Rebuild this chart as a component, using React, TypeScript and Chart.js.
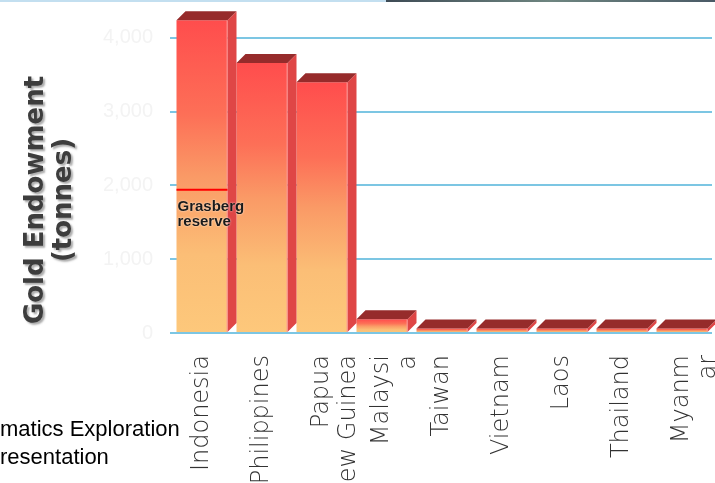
import { useEffect, useRef } from 'react';
import { Chart, registerables } from 'chart.js';

Chart.register(...registerables);

// ---- data ----
const CATEGORIES: (string | string[])[] = [
  'Indonesia',
  'Philippines',
  ['Papua', 'New Guinea'],
  ['Malaysi', 'a'],
  'Taiwan',
  'Vietnam',
  'Laos',
  'Thailand',
  ['Myanm', 'ar'],
];
const ENDOWMENT = [4240, 3660, 3400, 185, 60, 60, 60, 60, 60];
const Y_TICKS = [0, 1000, 2000, 3000, 4000];
const GRASBERG_RESERVE = 1940;
const ANNOTATION = ['Grasberg', 'reserve'];
const Y_TITLE = ['Gold Endowment', '(tonnes)'];
const FOOTER = ['matics Exploration', 'resentation'];

const DEPTH_X = 9;
const DEPTH_Y = 9;

const bar3d = {
  id: 'bar3d',
  afterDatasetsDraw(chart: any) {
    const ctx = chart.ctx as CanvasRenderingContext2D;
    const meta = chart.getDatasetMeta(0);
    ctx.save();
    meta.data.forEach((el: any) => {
      const { x, y, base, width } = el.getProps(['x', 'y', 'base', 'width'], true);
      const l = x - width / 2;
      const r = x + width / 2;
      // side face
      ctx.fillStyle = '#DF4646';
      ctx.beginPath();
      ctx.moveTo(r, y);
      ctx.lineTo(r + DEPTH_X, y - DEPTH_Y);
      ctx.lineTo(r + DEPTH_X, base - DEPTH_Y);
      ctx.lineTo(r, base);
      ctx.closePath();
      ctx.fill();
      // top face
      ctx.fillStyle = '#962B2B';
      ctx.beginPath();
      ctx.moveTo(l, y);
      ctx.lineTo(l + DEPTH_X, y - DEPTH_Y);
      ctx.lineTo(r + DEPTH_X, y - DEPTH_Y);
      ctx.lineTo(r, y);
      ctx.closePath();
      ctx.fill();
      // light edge between front and side
      ctx.strokeStyle = 'rgba(255,150,150,0.8)';
      ctx.lineWidth = 1;
      ctx.beginPath();
      ctx.moveTo(r - 0.5, y);
      ctx.lineTo(r - 0.5, base);
      ctx.stroke();
    });
    ctx.restore();
  },
};

const grasberg = {
  id: 'grasberg',
  afterDatasetsDraw(chart: any) {
    const ctx = chart.ctx as CanvasRenderingContext2D;
    const el = chart.getDatasetMeta(0).data[0];
    if (!el) return;
    const { x, width } = el.getProps(['x', 'width'], true);
    const l = x - width / 2;
    const r = x + width / 2;
    const py = chart.scales.y.getPixelForValue(GRASBERG_RESERVE);
    ctx.save();
    ctx.strokeStyle = '#FF0000';
    ctx.lineWidth = 2;
    ctx.beginPath();
    ctx.moveTo(l, py);
    ctx.lineTo(r, py);
    ctx.stroke();
    ctx.font = 'bold 15px "Liberation Sans", Arial, sans-serif';
    ctx.textAlign = 'left';
    ctx.textBaseline = 'alphabetic';
    ctx.shadowColor = 'rgba(255,255,255,0.9)';
    ctx.shadowBlur = 2;
    ctx.fillStyle = '#1A1A1A';
    ANNOTATION.forEach((t, i) => ctx.fillText(t, l + 1, py + 21 + i * 15.5));
    ctx.restore();
  },
};

const yTitle = {
  id: 'yTitle',
  afterDraw(chart: any) {
    const ctx = chart.ctx as CanvasRenderingContext2D;
    ctx.save();
    ctx.translate(chart.scales.y.left, 200);
    ctx.rotate(-Math.PI / 2);
    ctx.font = 'bold 26px "DejaVu Sans", sans-serif';
    ctx.textAlign = 'center';
    ctx.textBaseline = 'alphabetic';
    ctx.shadowColor = 'rgba(150,150,150,0.8)';
    ctx.shadowOffsetX = 2;
    ctx.shadowOffsetY = 2;
    ctx.shadowBlur = 2;
    ctx.fillStyle = '#3D3D3D';
    Y_TITLE.forEach((t, i) => ctx.fillText(t, 0, 43 + i * 28));
    ctx.restore();
  },
};

function gradientFor(c: any) {
  const chart = c.chart;
  const ys = chart.scales?.y;
  if (!chart.chartArea || !ys || typeof c.raw !== 'number') return '#FA9A66';
  const top = ys.getPixelForValue(c.raw);
  const bottom = ys.getPixelForValue(0);
  if (!isFinite(top) || !isFinite(bottom) || bottom - top < 0.5) return '#FA9A66';
  const g = chart.ctx.createLinearGradient(0, top, 0, bottom);
  g.addColorStop(0, '#FF4D4D');
  g.addColorStop(0.3, '#FD6F57');
  g.addColorStop(0.5, '#FA9A66');
  g.addColorStop(0.75, '#FBBE76');
  g.addColorStop(1, '#FDC87B');
  return g;
}

export default function App() {
  const ref = useRef<HTMLCanvasElement | null>(null);

  useEffect(() => {
    if (!ref.current) return;
    const chart = new Chart(ref.current, {
      type: 'bar',
      data: {
        labels: CATEGORIES as any,
        datasets: [
          {
            data: ENDOWMENT,
            backgroundColor: gradientFor as any,
            borderWidth: 0,
            barPercentage: 0.85,
            categoryPercentage: 1,
            clip: false as any,
          },
        ],
      },
      options: {
        animation: false,
        responsive: false,
        devicePixelRatio: 1,
        layout: { padding: { top: 1, right: 3, left: 0, bottom: 0 } },
        plugins: {
          legend: { display: false },
          tooltip: { enabled: false },
          title: { display: false },
        },
        scales: {
          x: {
            type: 'category',
            grid: { display: false, drawTicks: false },
            border: { display: false },
            ticks: {
              minRotation: 90,
              maxRotation: 90,
              autoSkip: false,
              padding: 22,
              color: '#333333',
              font: { family: '"DejaVu Sans", sans-serif', size: 24, weight: 200 as any, lineHeight: 1.12 },
            },
            afterFit: (s: any) => {
              s.height = 150;
              s.paddingLeft = 0;
              s.paddingRight = 0;
            },
          },
          y: {
            min: 0,
            max: 4500,
            afterBuildTicks: (s: any) => {
              s.ticks = Y_TICKS.map((v) => ({ value: v }));
            },
            grid: { color: '#7CC6E3', lineWidth: 2, tickLength: 2, drawTicks: true },
            border: { display: false },
            ticks: {
              color: '#F3F3F3',
              padding: 17,
              font: { family: '"Liberation Sans", Arial, sans-serif', size: 20 },
              callback: (v: any) => Number(v).toLocaleString('en-US'),
            },
            afterFit: (s: any) => {
              s.width = 172;
              s.paddingTop = 0;
              s.paddingBottom = 0;
            },
          },
        },
      },
      plugins: [bar3d, grasberg, yTitle],
    });
    return () => chart.destroy();
  }, []);

  return (
    <div style={{ position: 'absolute', left: 0, top: 0, width: 715, height: 483, background: '#FFFFFF', overflow: 'hidden' }}>
      <div style={{ position: 'absolute', left: 0, top: 0, width: 386, height: 2, background: '#C3DFF0' }} />
      <div style={{ position: 'absolute', left: 386, top: 0, width: 329, height: 2, background: 'linear-gradient(90deg, #3E4B55, #6E8580, #4A5A66)' }} />
      <canvas ref={ref} width={715} height={483} style={{ position: 'absolute', left: 0, top: 0, width: 715, height: 483 }} />
      <div
        style={{
          position: 'absolute',
          left: 0,
          top: 415,
          fontFamily: '"Liberation Sans", Arial, sans-serif',
          fontSize: 22,
          lineHeight: '28px',
          color: '#000',
          whiteSpace: 'nowrap',
        }}
      >
        {FOOTER.map((t) => (
          <div key={t}>{t}</div>
        ))}
      </div>
    </div>
  );
}
